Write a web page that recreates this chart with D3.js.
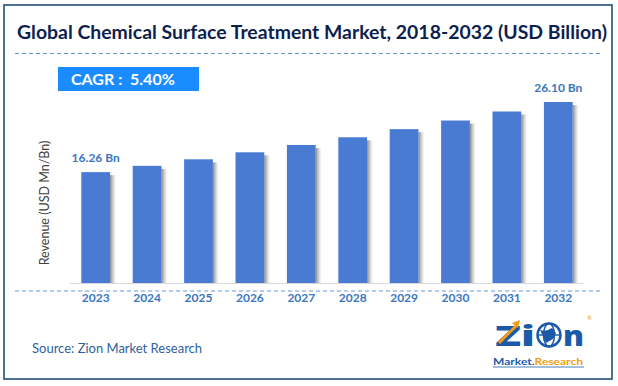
<!DOCTYPE html>
<html>
<head>
<meta charset="utf-8">
<script src="https://cdn.jsdelivr.net/npm/d3@7"></script>
<style>
  html, body { margin: 0; padding: 0; background: #fff; }
  svg { display: block; }
</style>
</head>
<body>
<svg id="chart" width="618" height="386"></svg>
<script>
const years = ["2023","2024","2025","2026","2027","2028","2029","2030","2031","2032"];
const revenue = [16.26, 17.14, 18.06, 19.04, 20.07, 21.15, 22.29, 23.50, 24.77, 26.10];
const labelled = { "2023": "16.26 Bn", "2032": "26.10 Bn" };
const titleText = "Global Chemical Surface Treatment Market, 2018-2032 (USD Billion)";
const cagrText = "CAGR :  5.40%";
const yAxisTitle = "Revenue (USD Mn/Bn)";
const sourceText = "Source: Zion Market Research";

const svg = d3.select("#chart");
const font = "Lato, 'Open Sans', sans-serif";

const defs = svg.append("defs");
const grad = defs.append("linearGradient").attr("id", "shade").attr("x1", 0).attr("x2", 1);
grad.append("stop").attr("offset", 0).attr("stop-color", "#7a7a7a").attr("stop-opacity", 0.9);
grad.append("stop").attr("offset", 1).attr("stop-color", "#bbbbbb").attr("stop-opacity", 0);

// frame
svg.append("rect").attr("x", 4).attr("y", 5).attr("width", 608).attr("height", 374)
  .attr("fill", "#fff").attr("stroke", "#1f4e79").attr("stroke-width", 1.6);

// title
svg.append("text").attr("x", 17).attr("y", 39)
  .attr("font-family", font).attr("font-weight", 700).attr("font-size", 19)
  .attr("fill", "#0d1f4f")
  .attr("textLength", 590).attr("lengthAdjust", "spacingAndGlyphs")
  .text(titleText);

// dashed separators
svg.append("line").attr("x1", 15).attr("x2", 600).attr("y1", 53.5).attr("y2", 53.5)
  .attr("stroke", "#6a96d8").attr("stroke-width", 1).attr("stroke-dasharray", "4,3");

// CAGR box
svg.append("rect").attr("x", 58).attr("y", 67).attr("width", 141).attr("height", 24).attr("fill", "#1a8cff");
svg.append("text").attr("x", 71).attr("y", 85)
  .attr("font-family", font).attr("font-weight", 700).attr("font-size", 16)
  .attr("fill", "#fff").attr("xml:space", "preserve").style("white-space", "pre").text(cagrText);

// scales
const x = d3.scaleBand().domain(years).range([70, 584]).paddingInner(0.44).paddingOuter(0.22);
const y = d3.scaleLinear().domain([0.7, 26.1]).range([283, 102]);

// axis line
svg.append("line").attr("x1", 70).attr("x2", 584).attr("y1", 283.5).attr("y2", 283.5)
  .attr("stroke", "#d9d9d9").attr("stroke-width", 1);

// shadows
svg.append("g").selectAll("rect").data(years).join("rect")
  .attr("x", d => x(d) + x.bandwidth())
  .attr("y", (d, i) => y(revenue[i]) + 3)
  .attr("width", 6)
  .attr("height", (d, i) => 283 - y(revenue[i]) - 3)
  .attr("fill", "url(#shade)");

// bars
svg.append("g").selectAll("rect").data(years).join("rect")
  .attr("x", d => x(d))
  .attr("y", (d, i) => y(revenue[i]))
  .attr("width", x.bandwidth())
  .attr("height", (d, i) => 283 - y(revenue[i]))
  .attr("fill", "#4a7bd3");

// value labels
svg.append("g").selectAll("text").data(years.filter(d => labelled[d])).join("text")
  .attr("x", d => x(d) + x.bandwidth() / 2)
  .attr("y", d => y(revenue[years.indexOf(d)]) - 10)
  .attr("text-anchor", "middle")
  .attr("font-family", font).attr("font-weight", 700).attr("font-size", 12)
  .attr("fill", "#3a76c0")
  .text(d => labelled[d]);

// dashed line under bars
svg.append("line").attr("x1", 15).attr("x2", 601).attr("y1", 291).attr("y2", 291)
  .attr("stroke", "#6a96d8").attr("stroke-width", 1).attr("stroke-dasharray", "4,3");

// x axis labels
const xAxis = d3.axisBottom(x).tickSize(0).tickPadding(0);
const gx = svg.append("g").attr("transform", "translate(0,292)").call(xAxis);
gx.select(".domain").remove();
gx.selectAll("text")
  .attr("y", 10).attr("dy", 0)
  .attr("font-family", font).attr("font-weight", 700).attr("font-size", 12)
  .attr("fill", "#3a76c0");

// y axis title
svg.append("text")
  .attr("transform", "translate(49,203) rotate(-90)")
  .attr("text-anchor", "middle")
  .attr("font-family", font).attr("font-size", 12.5)
  .attr("fill", "#404040")
  .text(yAxisTitle);

// source
svg.append("text").attr("x", 32).attr("y", 353)
  .attr("font-family", font).attr("font-size", 13)
  .attr("fill", "#2f5f9e").text(sourceText);

// logo
const logo = svg.append("g");
logo.append("text").attr("x", 495).attr("y", 346)
  .attr("font-family", "'Open Sans', sans-serif").attr("font-weight", 800).attr("font-size", 28)
  .attr("textLength", 40).attr("lengthAdjust", "spacingAndGlyphs")
  .attr("fill", "#1a5aa8").text("Zi");
logo.append("path").attr("d", "M499,343 L516,326").attr("stroke", "#f39c12").attr("stroke-width", 3);
logo.append("path").attr("d", "M512,323 L520,320 L518,328 Z").attr("fill", "#f39c12");
logo.append("circle").attr("cx", 549).attr("cy", 335).attr("r", 11.5).attr("fill", "#fff")
  .attr("stroke", "#1a5aa8").attr("stroke-width", 2.5);
logo.append("ellipse").attr("cx", 549).attr("cy", 335).attr("rx", 5.5).attr("ry", 11.5)
  .attr("fill", "none").attr("stroke", "#1a5aa8").attr("stroke-width", 1.4);
logo.append("line").attr("x1", 537.5).attr("x2", 560.5).attr("y1", 335).attr("y2", 335)
  .attr("stroke", "#1a5aa8").attr("stroke-width", 1.4);
logo.append("path").attr("d", "M540,330 Q546,332 552,328 L556,333 L553,339 L546,343 Z").attr("fill", "#1a5aa8");
logo.append("text").attr("x", 563).attr("y", 346)
  .attr("font-family", "'Open Sans', sans-serif").attr("font-weight", 800).attr("font-size", 28)
  .attr("textLength", 21).attr("lengthAdjust", "spacingAndGlyphs")
  .attr("fill", "#1a5aa8").text("n");
logo.append("text").attr("x", 493).attr("y", 365)
  .attr("font-family", font).attr("font-weight", 700).attr("font-size", 10)
  .attr("textLength", 90).attr("lengthAdjust", "spacingAndGlyphs")
  .html('<tspan fill="#1a5aa8">Market.</tspan><tspan fill="#f39c12">Research</tspan>');
logo.append("line").attr("x1", 493).attr("x2", 584).attr("y1", 367).attr("y2", 367)
  .attr("stroke", "#1a5aa8").attr("stroke-width", 0.8);
logo.append("text").attr("x", 587).attr("y", 320).attr("font-family", font).attr("font-size", 6)
  .attr("fill", "#f39c12").text("®");
</script>
</body>
</html>
